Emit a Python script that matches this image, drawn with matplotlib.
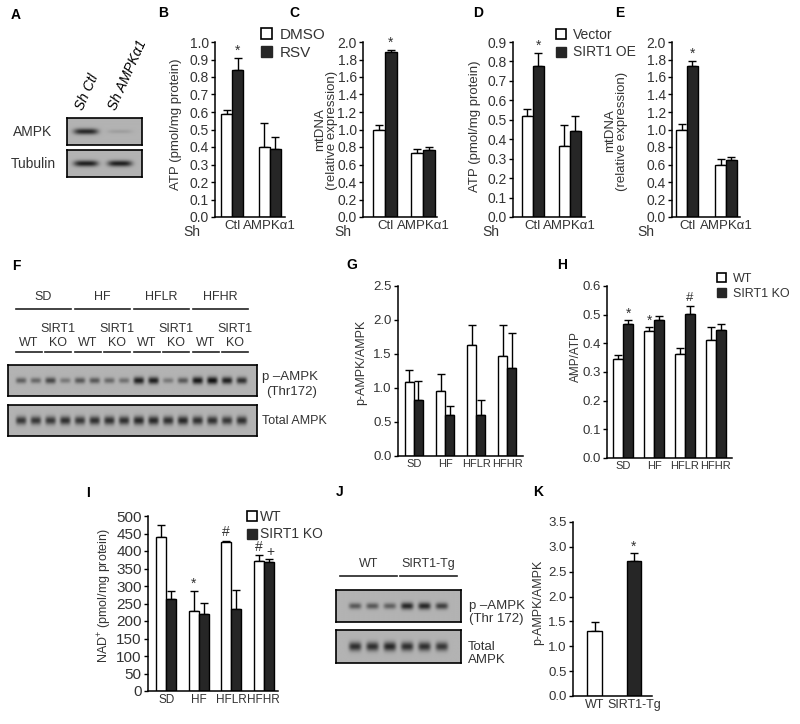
import numpy as np
import matplotlib
matplotlib.use('Agg')
import matplotlib.pyplot as plt
from matplotlib.patches import Patch

plt.rcParams['font.family'] = ['Liberation Sans', 'DejaVu Sans']
plt.rcParams['mathtext.fontset'] = 'custom'
plt.rcParams['mathtext.rm'] = 'Liberation Sans'

W, H = 800, 724
TXT = '#333333'
DARK = '#262626'

# ---- data ----
sh_groups = ['Ctl', 'AMPKα1']
atp_dmso, atp_dmso_err = [0.59, 0.40], [0.02, 0.14]
atp_rsv, atp_rsv_err = [0.84, 0.39], [0.07, 0.07]
mt_dmso, mt_dmso_err = [1.00, 0.73], [0.05, 0.05]
mt_rsv, mt_rsv_err = [1.89, 0.77], [0.02, 0.03]
atp_vec, atp_vec_err = [0.52, 0.365], [0.035, 0.11]
atp_oe, atp_oe_err = [0.775, 0.44], [0.07, 0.08]
mt_vec, mt_vec_err = [1.00, 0.60], [0.06, 0.06]
mt_oe, mt_oe_err = [1.73, 0.65], [0.05, 0.04]

diets = ['SD', 'HF', 'HFLR', 'HFHR']
pampk_wt, pampk_wt_err = [1.09, 0.96, 1.63, 1.47], [0.17, 0.24, 0.30, 0.45]
pampk_ko, pampk_ko_err = [0.83, 0.60, 0.60, 1.29], [0.28, 0.13, 0.22, 0.52]
ampatp_wt, ampatp_wt_err = [0.345, 0.443, 0.362, 0.413], [0.013, 0.015, 0.023, 0.043]
ampatp_ko, ampatp_ko_err = [0.468, 0.483, 0.503, 0.448], [0.015, 0.012, 0.028, 0.018]
nad_wt, nad_wt_err = [440, 228, 425, 372], [35, 57, 3, 17]
nad_ko, nad_ko_err = [262, 220, 235, 368], [25, 32, 53, 8]

tg_groups = ['WT', 'SIRT1-Tg']
tg_vals, tg_err = [1.30, 2.72], [0.18, 0.15]

# blot band intensities (0 = none, 1 = strongest)
blotA_ampk = [0.85, 0.12]
blotA_tub = [0.9, 0.9]
blotF_p = [0.5, 0.45, 0.65, 0.35, 0.55, 0.55, 0.45, 0.4,
           0.9, 0.9, 0.35, 0.55, 0.95, 1.0, 0.9, 0.8]
blotF_tot = [0.75, 0.75, 0.75, 0.8, 0.75, 0.8, 0.8, 0.8,
             0.85, 0.85, 0.8, 0.85, 0.8, 0.8, 0.75, 0.8]
blotJ_p = [0.55, 0.55, 0.5, 0.85, 0.85, 0.7]
blotJ_tot = [0.8, 0.8, 0.85, 0.8, 0.8, 0.75]


def box(x0, y0, x1, y1):
    return [x0 / W, 1 - y1 / H, (x1 - x0) / W, (y1 - y0) / H]


fig = plt.figure(figsize=(W / 100, H / 100), dpi=100)
ov = fig.add_axes([0, 0, 1, 1])
ov.set_xlim(0, W)
ov.set_ylim(H, 0)
ov.axis('off')


def t(x, y, s, size=9, **kw):
    kw.setdefault('ha', 'center')
    kw.setdefault('va', 'center')
    kw.setdefault('color', TXT)
    ov.text(x, y, s, fontsize=size, **kw)


def style(ax, xlim, ylim, yticks, fmt, ysize, xsize):
    ax.set_xlim(*xlim)
    ax.set_ylim(*ylim)
    ax.set_yticks(yticks)
    ax.set_yticklabels([fmt % v for v in yticks])
    for s in ['top', 'right']:
        ax.spines[s].set_visible(False)
    ax.spines['left'].set_linewidth(1.1)
    ax.spines['bottom'].set_linewidth(1.1)
    ax.tick_params(axis='y', direction='out', length=3, width=1, labelsize=ysize,
                   labelcolor=TXT, pad=1.5)
    ax.tick_params(axis='x', length=0, labelsize=xsize, labelcolor=TXT, pad=2.5)
    ax.patch.set_alpha(0)


def bars(ax, xs, vals, errs, color, width):
    ax.bar(xs, vals, width, color=color, edgecolor='black', linewidth=1.0, zorder=2)
    ax.errorbar(xs, vals, yerr=[np.zeros(len(vals)), errs], fmt='none', ecolor='black',
                elinewidth=1.0, capsize=3, capthick=1.0, zorder=1)


def pair_panel(rect, labels, wv, we, bv, be, width, xlim, ylim, yticks, fmt,
               ysize=10, xsize=9.5):
    ax = fig.add_axes(box(*rect))
    x = np.arange(len(labels))
    bars(ax, x - width / 2, wv, we, 'white', width)
    bars(ax, x + width / 2, bv, be, DARK, width)
    ax.set_xticks(x)
    ax.set_xticklabels(labels)
    style(ax, xlim, ylim, yticks, fmt, ysize, xsize)
    return ax, x


def mark(ax, x, top, s, dy, size=10):
    ax.text(x, top + dy, s, ha='center', va='bottom', fontsize=size, color=TXT)


def legend(ax, names, x, y, size=9.5, pad=0.5):
    h = [Patch(facecolor='white', edgecolor='black', linewidth=1.2),
         Patch(facecolor=DARK, edgecolor=DARK)]
    ax.legend(h, names, loc='upper left', bbox_to_anchor=(x / W, 1 - y / H),
              bbox_transform=fig.transFigure, frameon=False, fontsize=size,
              handlelength=0.75, handleheight=0.75, handletextpad=pad,
              borderpad=0, borderaxespad=0, labelspacing=0.25, labelcolor=TXT)


def blot(rect, bands, xlim, bg=0.70, bw=0.36, bh=0.2):
    ax = fig.add_axes(box(*rect))
    xs = np.linspace(xlim[0], xlim[1], 600)
    ys = np.linspace(-1, 1, 80)
    img = np.full((len(ys), len(xs)), bg)
    for i, b in enumerate(bands):
        prof = np.exp(-((xs - (i + 0.5)) / bw) ** 4)
        vert = np.exp(-(ys / (bh * (0.7 + 0.5 * b))) ** 2)
        img -= b * (bg - 0.06) * np.outer(vert, prof)
    ax.imshow(img, cmap='gray', vmin=0, vmax=1, aspect='auto',
              extent=[xlim[0], xlim[1], 1, -1], interpolation='bilinear')
    ax.set_xticks([])
    ax.set_yticks([])
    for s in ax.spines.values():
        s.set_linewidth(1.2)
    return ax


# ---- panel letters ----
for lab, x, y in [('A', 16, 15), ('B', 163, 13), ('C', 294, 13), ('D', 478, 13),
                  ('E', 620, 13), ('F', 16, 266), ('G', 352, 265), ('H', 562, 265),
                  ('I', 88, 493), ('J', 340, 492), ('K', 538, 492)]:
    t(x, y, lab, size=10, weight='bold', color='black')

# ---- A ----
blot((67, 118, 142, 145), blotA_ampk, (-0.06, 2.15))
blot((67, 150, 142, 177), blotA_tub, (-0.06, 2.15))
t(33, 132, 'AMPK', size=10)
t(33, 164, 'Tubulin', size=10)
t(87, 92, 'Sh Ctl', size=10, rotation=66, style='italic', color='black')
t(128, 75, 'Sh AMPKα1', size=10, rotation=66, style='italic', color='black')

# ---- B ----
axB, x = pair_panel((215, 42, 285, 217), sh_groups, atp_dmso, atp_dmso_err, atp_rsv,
                    atp_rsv_err, 0.29, (-0.45, 1.4), (0, 1.0), np.arange(0, 1.01, 0.1), '%.1f')
mark(axB, x[0] + 0.145, atp_rsv[0] + atp_rsv_err[0], '*', 0.0)
legend(axB, ['DMSO', 'RSV'], 261, 28, size=11)
t(176, 124, 'ATP (pmol/mg protein)', size=9.5, rotation=90)
t(192, 232, 'Sh', size=10)

# ---- C ----
axC, x = pair_panel((363, 42, 437, 217), sh_groups, mt_dmso, mt_dmso_err, mt_rsv,
                    mt_rsv_err, 0.31, (-0.58, 1.37), (0, 2.0), np.arange(0, 2.01, 0.2), '%.1f')
mark(axC, x[0] + 0.155, mt_rsv[0] + mt_rsv_err[0], '*', 0.0)
t(326, 130, 'mtDNA\n(relative expression)', size=9.5, rotation=90, linespacing=1.0)
t(343, 232, 'Sh', size=10)

# ---- D ----
axD, x = pair_panel((513, 42, 585, 217), sh_groups, atp_vec, atp_vec_err, atp_oe,
                    atp_oe_err, 0.30, (-0.54, 1.41), (0, 0.9), np.arange(0, 0.91, 0.1), '%.1f')
mark(axD, x[0] + 0.15, atp_oe[0] + atp_oe_err[0], '*', 0.0)
legend(axD, ['Vector', 'SIRT1 OE'], 556, 28, size=10)
t(475, 126, 'ATP (pmol/mg protein)', size=9.5, rotation=90)
t(491, 232, 'Sh', size=10)

# ---- E ----
axE, x = pair_panel((672, 42, 740, 217), sh_groups, mt_vec, mt_vec_err, mt_oe,
                    mt_oe_err, 0.28, (-0.385, 1.36), (0, 2.0), np.arange(0, 2.01, 0.2), '%.1f')
mark(axE, x[0] + 0.14, mt_oe[0] + mt_oe_err[0], '*', 0.0)
t(616, 131, 'mtDNA\n(relative expression)', size=9.5, rotation=90, linespacing=1.0)
t(646, 232, 'Sh', size=10)

# ---- F ----
pitch = 249 / 16.9


def lane(i):
    return 8 + (i + 0.88) * pitch


for g, name in enumerate(diets):
    a, b = lane(4 * g) - 5, lane(4 * g + 3) + 6
    ov.plot([a, b], [309, 309], color='#222222', lw=1.2)
    t((a + b) / 2, 297, name, size=9)
    for k, sub in enumerate(['WT', 'KO']):
        a, b = lane(4 * g + 2 * k) - 5, lane(4 * g + 2 * k + 1) + 6
        ov.plot([a, b], [352, 352], color='#222222', lw=1.2)
        t((a + b) / 2, 343, sub, size=9)
        if sub == 'KO':
            t((a + b) / 2, 329, 'SIRT1', size=9)
blot((8, 365, 257, 396), blotF_p, (-0.38, 16.52))
blot((8, 405, 257, 436), blotF_tot, (-0.38, 16.52), bh=0.25)
t(262, 377, 'p \u2013AMPK', size=9.5, ha='left')
t(266, 392, '(Thr172)', size=9.5, ha='left')
t(262, 421, 'Total AMPK', size=9, ha='left')

# ---- G ----
axG, x = pair_panel((398, 286, 523, 456), diets, pampk_wt, pampk_wt_err, pampk_ko,
                    pampk_ko_err, 0.29, (-0.51, 3.5), (0, 2.5), np.arange(0, 2.51, 0.5), '%.1f',
                    ysize=9.5, xsize=8)
t(361, 362, 'p-AMPK/AMPK', size=9, rotation=90)

# ---- H ----
axH, x = pair_panel((607, 286, 732, 458), diets, ampatp_wt, ampatp_wt_err, ampatp_ko,
                    ampatp_ko_err, 0.32, (-0.52, 3.52), (0, 0.6), np.arange(0, 0.61, 0.1), '%.1f',
                    ysize=9.5, xsize=8)
mark(axH, x[0] + 0.16, ampatp_ko[0] + ampatp_ko_err[0], '*', -0.005)
mark(axH, x[1] - 0.16, ampatp_wt[1] + ampatp_wt_err[1], '*', -0.005)
mark(axH, x[2] + 0.16, ampatp_ko[2] + ampatp_ko_err[2], '#', 0.005, size=9.5)
legend(axH, ['WT', 'SIRT1 KO'], 717, 273, size=9)
t(576, 357, 'AMP/ATP', size=8.5, rotation=90)

# ---- I ----
axI, x = pair_panel((148, 516, 278, 691), diets, nad_wt, nad_wt_err, nad_ko,
                    nad_ko_err, 0.31, (-0.56, 3.44), (0, 500), np.arange(0, 501, 50), '%d',
                    ysize=11, xsize=8.5)
mark(axI, x[1] - 0.155, nad_wt[1] + nad_wt_err[1], '*', 0)
mark(axI, x[2] - 0.155, nad_wt[2] + nad_wt_err[2], '#', 5, size=10)
mark(axI, x[3] - 0.155, nad_wt[3] + nad_wt_err[3], '#', 3, size=10)
mark(axI, x[3] + 0.2, nad_ko[3] + nad_ko_err[3], '+', 0, size=10)
legend(axI, ['WT', 'SIRT1 KO'], 247, 510, size=10, pad=0.2)
t(105, 596, r'NAD$^{+}$ (pmol/mg protein)', size=9, rotation=90)

# ---- J ----
for name, a, b in [('WT', 340, 397), ('SIRT1-Tg', 400, 457)]:
    ov.plot([a, b], [576, 576], color='#222222', lw=1.2)
    t((a + b) / 2, 564, name, size=9)
blot((336, 590, 461, 622), blotJ_p, (-0.6, 6.6))
blot((336, 630, 461, 663), blotJ_tot, (-0.6, 6.6), bh=0.25)
t(469, 606, 'p \u2013AMPK', size=9.5, ha='left')
t(469, 619, '(Thr 172)', size=9.5, ha='left')
t(468, 647, 'Total', size=9.5, ha='left')
t(468, 660, 'AMPK', size=9.5, ha='left')

# ---- K ----
axK = fig.add_axes(box(573, 522, 652, 696))
xk = np.arange(len(tg_groups))
bars(axK, xk[:1], tg_vals[:1], tg_err[:1], 'white', 0.38)
bars(axK, xk[1:], tg_vals[1:], tg_err[1:], DARK, 0.38)
axK.set_xticks(xk)
axK.set_xticklabels(tg_groups)
style(axK, (-0.56, 1.46), (0, 3.5), np.arange(0, 3.51, 0.5), '%.1f', 9.5, 9)
mark(axK, xk[1], tg_vals[1] + tg_err[1], '*', 0.0)
t(538, 602, 'p-AMPK/AMPK', size=9, rotation=90)

fig.savefig('out.png', dpi=100)
